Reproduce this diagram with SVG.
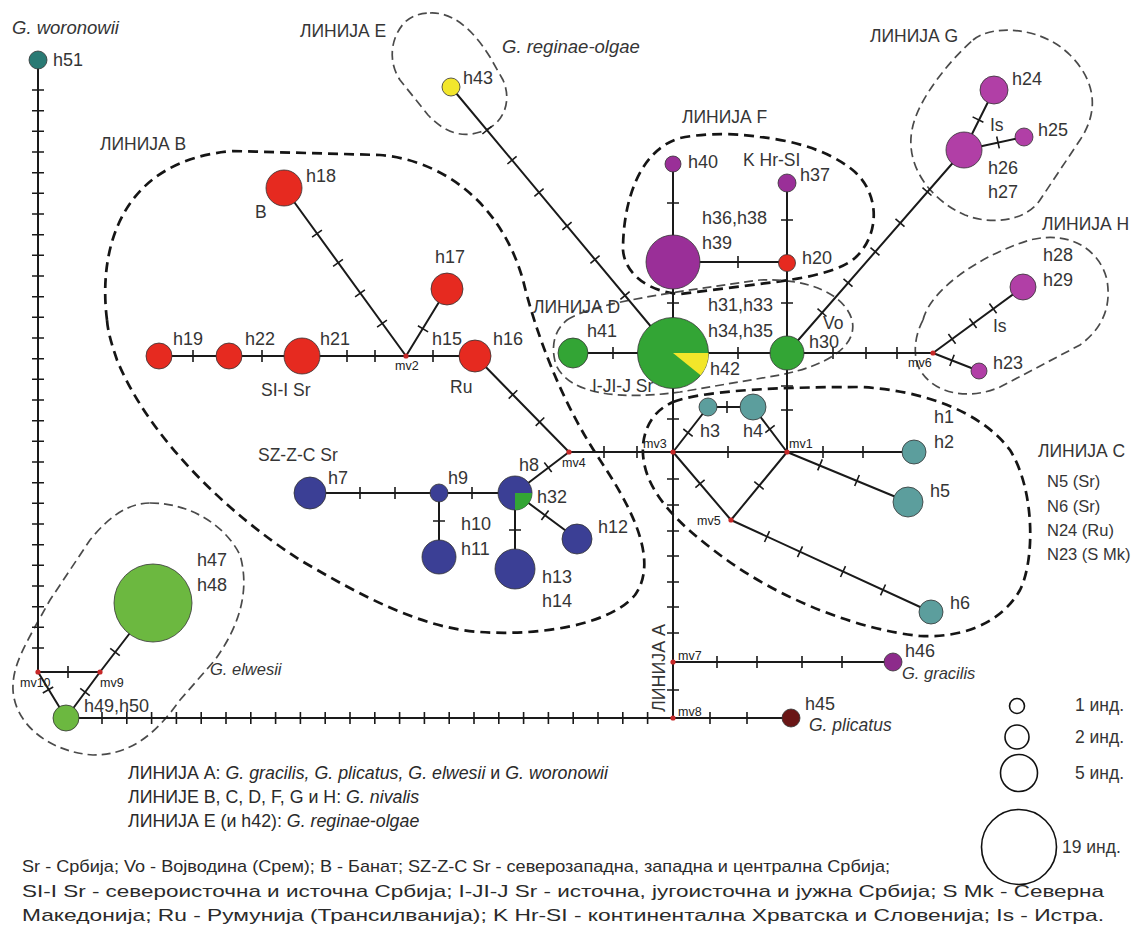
<svg xmlns="http://www.w3.org/2000/svg" width="1141" height="932" viewBox="0 0 1141 932">
<style>
text{font-family:"Liberation Sans",Arial,sans-serif;fill:#353535}
.l{font-size:18px}
.r{font-size:17.5px}
.q{font-size:16.5px}
.s{font-size:12.5px;fill:#222}
.it{font-style:italic}
.big{font-size:18.5px}
.lg{font-size:17.8px;fill:#2a2a2a}
.lb{font-size:17px;fill:#2a2a2a}
.e{stroke:#1a1a1a;stroke-width:2;fill:none}
.tk{stroke:#1a1a1a;stroke-width:1.6;fill:none}
.bt{stroke:#151515;stroke-width:2.7;fill:none;stroke-dasharray:10 6}
.bn{stroke:#4a4a4a;stroke-width:1.7;fill:none;stroke-dasharray:9 5}
.n{stroke:#333;stroke-width:0.8}
.red{fill:#e62a20}.blu{fill:#3b3f95}.tea{fill:#5c9e9d}.grn{fill:#33a535}.lgr{fill:#6cb840}
.pur{fill:#9a2f98}.mag{fill:#b13fa6}
.mv{fill:#c62828}
.leg{fill:#fff;stroke:#111;stroke-width:1.6}
</style>
<rect width="1141" height="932" fill="#fff"/>

<g id="boundaries">
<path class="bt" d="M107,320 C98,250 120,160 233,151 L380,155 C440,160 500,200 523,280 C535,330 560,400 600,460 C630,505 660,560 635,595 C610,625 540,636 480,632 C420,628 360,595 300,560 C230,515 150,440 117,360 C112,345 108,333 107,320 Z"/>
<path class="bn" d="M430,13 C450,12 470,25 490,57 L503,80 C512,100 505,125 480,132 C462,138 445,133 428,115 L400,80 C388,62 390,38 405,22 C413,15 422,13 430,13 Z"/>
<path class="bt" d="M760,137 C790,140 830,150 855,172 C880,195 880,235 855,258 C835,275 790,280 760,284 L680,294 C650,292 625,275 623,250 C623,200 640,150 680,138 C710,132 740,134 760,137 Z"/>
<path class="bn" d="M973,40 C990,25 1040,25 1070,55 C1095,80 1100,110 1080,140 L1040,200 C1025,222 990,225 965,215 C930,200 905,165 912,130 C917,100 950,60 973,40 Z"/>
<path class="bn" d="M923,320 C930,290 980,255 1030,240 C1070,230 1100,250 1107,280 C1112,310 1100,330 1080,345 L1000,387 C970,400 935,395 920,370 C912,355 915,335 923,320 Z"/>
<path class="bn" d="M567,320 C590,305 650,295 760,280 C810,278 845,295 852,320 C858,345 830,365 780,375 L680,392 C620,400 570,395 556,365 C550,345 555,330 567,320 Z"/>
<path class="bt" d="M673,402 C700,392 760,387 860,387 C920,390 980,410 1010,450 C1035,490 1035,560 1020,590 C1000,625 960,638 920,636 C860,630 780,600 720,555 C680,525 640,490 643,445 C645,425 655,410 673,402 Z"/>
<path class="bn" d="M150,503 C190,503 225,525 240,555 C250,590 240,625 215,660 L180,700 C155,735 130,755 93,755 C50,752 15,725 13,690 C12,665 25,645 50,600 L90,540 C110,515 130,503 150,503 Z"/>
</g>

<g id="connectors">
<path class="e" d="M38,60V672 M38,672H100 M38,672L66,718 M100,672L66,718 M100,672L153,603 M66,718H791 M673,164V718 M673,662H893 M673,262H787 M787,183V452 M573,353H933 M933,353L1023,287 M933,353L979,371 M787,353L964,150 M964,150L994,90 M964,150L1024,137 M451,87L673,353 M673,452L708,407 M708,407H753 M753,407L787,452 M569,452H914 M787,452L908,502 M673,452L731,520 M731,520L787,452 M731,520L931,612 M569,452L475,356 M569,452L515,493 M310,493H515 M439,493V557 M515,493V569 M515,493L577,539 M159,356H475 M406,356L284,188 M406,356L447,289"/>
<path class="tk" d="M32,90H44 M32,110.7H44 M32,131.3H44 M32,152H44 M32,172.7H44 M32,193.3H44 M32,214H44 M32,234.7H44 M32,255.3H44 M32,276H44 M32,296.7H44 M32,317.3H44 M32,338H44 M32,358.7H44 M32,379.3H44 M32,400H44 M32,420.7H44 M32,441.3H44 M32,462H44 M32,482.7H44 M32,503.3H44 M32,524H44 M32,544.7H44 M32,565.3H44 M32,586H44 M32,606.7H44 M32,627.3H44 M32,648H44
M68,666V678 M42.8,693L53.2,687 M80.2,688.4L89.8,695.6 M110.2,648.3L119.8,655.7
M102,712V724 M126.8,712V724 M151.6,712V724 M176.4,712V724 M201.2,712V724 M226,712V724 M250.8,712V724 M275.6,712V724 M300.4,712V724 M325.2,712V724 M350,712V724 M374.8,712V724 M399.6,712V724 M424.4,712V724 M449.2,712V724 M474,712V724 M498.8,712V724 M523.6,712V724 M548.4,712V724 M573.2,712V724 M598,712V724 M622.8,712V724 M647.6,712V724 M710,712V724 M747,712V724
M717,656V668 M757,656V668 M802,656V668 M842,656V668 M667,690H679
M667,203H679 M667,303H679 M667,419H679 M667,479H679 M667,505H679 M667,531H679 M667,556H679 M667,582H679 M667,607H679 M667,633H679
M738,256V268 M781,220H793 M781,303H793 M781,386H793 M781,410H793
M613,347V359 M738,347V359 M833,347V359 M866,347V359 M897,347V359
M948.4,334.1L955.6,343.7 M969.4,318.4L976.6,328 M989.4,303.6L996.6,313.2 M954.2,354.8L949.8,366
M817.5,308.7L826.5,316.5 M843.5,278.8L852.5,286.6 M870.5,247.6L879.5,255.4 M895.5,218.8L904.5,226.6 M922.5,187.7L931.5,195.5
M972.6,116.9L983.4,122.2 M996.7,136.5L999.3,148.3
M491.6,126.3L482.4,134 M516.6,156.3L507.4,164 M543.6,188.6L534.4,196.3 M571.6,222.2L562.4,229.9 M599.6,255.7L590.4,263.4 M629.6,291.7L620.4,299.4
M683.3,429L692.7,436.4 M727,401V413 M774.7,425.3L765.3,432.7
M604,446V458 M637,446V458 M728,446V458 M823,446V458 M863,446V458
M822.3,459.4L817.7,470.4 M859.3,475L854.7,486 M704.6,479.8L695.4,487.6 M754.3,481.7L763.7,489.3
M769.5,531.2L764.5,542 M802.5,546.3L797.5,557.2 M845.5,566.1L840.5,577 M885.5,584.5L880.5,595.4
M508.7,398.6L517.3,390.2 M535.7,425.9L544.3,417.5 M551.7,472L544.3,462.6
M472,487V499 M360,487V499 M395,487V499 M433,521H445 M509,530H521 M548.6,510.5L541.4,520.1
M193,350V362 M262,350V362 M347,350V362 M375,350V362 M433,350V362
M312.1,237.2L321.9,230.2 M333.1,266.3L342.9,259.3 M355.1,296.8L364.9,289.8 M377.1,327.2L386.9,320.2 M417.9,325.7L428.1,331.9"/>
</g>

<g id="median-vectors">
<circle class="mv" cx="787" cy="452" r="2.6"/><text class="s" x="789" y="448">mv1</text>
<circle class="mv" cx="406" cy="356" r="2.6"/><text class="s" x="395" y="370">mv2</text>
<circle class="mv" cx="673" cy="452" r="2.6"/><text class="s" x="643" y="448">mv3</text>
<circle class="mv" cx="569" cy="452" r="2.6"/><text class="s" x="562" y="467">mv4</text>
<circle class="mv" cx="731" cy="520" r="2.6"/><text class="s" x="697" y="525">mv5</text>
<circle class="mv" cx="933" cy="353" r="2.6"/><text class="s" x="908" y="367">mv6</text>
<circle class="mv" cx="673" cy="662" r="2.6"/><text class="s" x="678" y="660">mv7</text>
<circle class="mv" cx="673" cy="718" r="2.6"/><text class="s" x="678" y="716">mv8</text>
<circle class="mv" cx="100" cy="672" r="2.6"/><text class="s" x="100" y="687">mv9</text>
<circle class="mv" cx="38" cy="672" r="2.6"/><text class="s" x="20" y="687">mv10</text>
</g>

<g id="h51"><circle class="n" cx="38" cy="60" r="9" fill="#2a7a74"/><text class="l" x="53" y="66">h51</text><text class="big it" x="12" y="34">G. woronowii</text></g>
<g id="h43"><circle class="n" cx="451" cy="87" r="9" fill="#f2e62c"/><text class="l" x="463" y="84">h43</text></g>
<g id="h18"><circle class="n red" cx="284" cy="188" r="18"/><text class="l" x="306" y="182">h18</text><text class="r" x="255" y="218">B</text></g>
<g id="h17"><circle class="n red" cx="447" cy="289" r="16"/><text class="l" x="435" y="263">h17</text></g>
<g id="h19"><circle class="n red" cx="159" cy="356" r="13"/><text class="l" x="173" y="345">h19</text></g>
<g id="h22"><circle class="n red" cx="229" cy="356" r="13"/><text class="l" x="245" y="345">h22</text></g>
<g id="h21"><circle class="n red" cx="302" cy="356" r="18"/><text class="l" x="320" y="345">h21</text><text class="r" x="261" y="396">SI-I Sr</text></g>
<g id="h15"><text class="l" x="432" y="345">h15</text></g>
<g id="h16"><circle class="n red" cx="475" cy="356" r="16"/><text class="l" x="493" y="345">h16</text><text class="r" x="450" y="393">Ru</text></g>
<g id="h40"><circle class="n pur" cx="673" cy="164" r="8"/><text class="l" x="688" y="168">h40</text></g>
<g id="h37"><circle class="n pur" cx="787" cy="183" r="9"/><text class="l" x="800" y="181">h37</text><text class="r" x="743" y="166">K Hr-SI</text></g>
<g id="h39"><circle class="n pur" cx="673" cy="262" r="27"/><text class="l" x="702" y="224">h36,h38</text><text class="l" x="702" y="249">h39</text></g>
<g id="h20"><circle class="n red" cx="787" cy="263" r="8.5"/><text class="l" x="802" y="264">h20</text></g>
<g id="h24"><circle class="n mag" cx="994" cy="90" r="14"/><text class="l" x="1012" y="85">h24</text></g>
<g id="h26"><circle class="n mag" cx="964" cy="150" r="18"/><text class="l" x="988" y="174">h26</text><text class="l" x="988" y="198">h27</text><text class="r" x="990" y="131">Is</text></g>
<g id="h25"><circle class="n mag" cx="1024" cy="137" r="9"/><text class="l" x="1038" y="136">h25</text></g>
<g id="h29"><circle class="n mag" cx="1023" cy="287" r="13"/><text class="l" x="1043" y="261">h28</text><text class="l" x="1043" y="286">h29</text><text class="r" x="993" y="332">Is</text></g>
<g id="h23"><circle class="n mag" cx="979" cy="371" r="8"/><text class="l" x="993" y="369">h23</text></g>
<g id="h41"><circle class="n grn" cx="573" cy="353" r="15"/><text class="l" x="587" y="337">h41</text></g>
<g id="h34"><circle class="n grn" cx="673" cy="353" r="35.5"/><path d="M673,353 L708.5,353 A35.5,35.5 0 0 1 700.6,375.3 Z" fill="#f3e62a"/><text class="l" x="708" y="311">h31,h33</text><text class="l" x="708" y="337">h34,h35</text><text class="l" x="710" y="375">h42</text><text class="r" x="592" y="392">I-JI-J Sr</text></g>
<g id="h30"><circle class="n grn" cx="787" cy="353" r="17"/><text class="l" x="809" y="348">h30</text><text class="r" x="823" y="329">Vo</text></g>
<g id="h3"><circle class="n tea" cx="708" cy="407" r="9"/><text class="l" x="700" y="437">h3</text></g>
<g id="h4"><circle class="n tea" cx="753" cy="407" r="13"/><text class="l" x="743" y="437">h4</text></g>
<g id="h2"><circle class="n tea" cx="914" cy="452" r="12"/><text class="l" x="934" y="423">h1</text><text class="l" x="934" y="448">h2</text></g>
<g id="h5"><circle class="n tea" cx="908" cy="502" r="15"/><text class="l" x="930" y="497">h5</text></g>
<g id="h6"><circle class="n tea" cx="931" cy="612" r="12"/><text class="l" x="950" y="609">h6</text></g>
<g id="h7"><circle class="n blu" cx="310" cy="493" r="16"/><text class="l" x="328" y="484">h7</text><text class="r" x="258" y="461">SZ-Z-C Sr</text></g>
<g id="h9"><circle class="n blu" cx="439" cy="493" r="9"/><text class="l" x="448" y="484">h9</text></g>
<g id="h8"><circle class="n blu" cx="515" cy="493" r="17"/><path d="M515,493 L532,493 A17,17 0 0 1 515,510 Z" fill="#33a535"/><text class="l" x="519" y="471">h8</text><text class="l" x="537" y="503">h32</text></g>
<g id="h11"><circle class="n blu" cx="439" cy="557" r="17"/><text class="l" x="461" y="530">h10</text><text class="l" x="461" y="555">h11</text></g>
<g id="h13"><circle class="n blu" cx="515" cy="569" r="20"/><text class="l" x="542" y="583">h13</text><text class="l" x="542" y="607">h14</text></g>
<g id="h12"><circle class="n blu" cx="577" cy="539" r="15"/><text class="l" x="598" y="533">h12</text></g>
<g id="h47"><circle class="n lgr" cx="153" cy="603" r="39"/><text class="l" x="197" y="566">h47</text><text class="l" x="197" y="591">h48</text></g>
<g id="h49"><circle class="n lgr" cx="66" cy="718" r="13"/><text class="l" x="84" y="712">h49,h50</text></g>
<g id="h46"><circle class="n" cx="893" cy="662" r="9" fill="#8d2b8b"/><text class="l" x="905" y="657">h46</text><text class="q it" x="902" y="679">G. gracilis</text></g>
<g id="h45"><circle class="n" cx="791" cy="718" r="9" fill="#6a1616"/><text class="l" x="805" y="710">h45</text><text class="r it" x="809" y="731">G. plicatus</text></g>

<g id="region-labels">
<text class="r" x="100" y="150">ЛИНИЈА B</text>
<text class="r" x="300" y="37">ЛИНИЈА E</text>
<text class="big it" x="502" y="53">G. reginae-olgae</text>
<text class="r" x="682" y="123">ЛИНИЈА F</text>
<text class="r" x="870" y="42">ЛИНИЈА G</text>
<text class="r" x="1042" y="230">ЛИНИЈА H</text>
<text class="r" x="533" y="313">ЛИНИЈА D</text>
<text class="r" x="1038" y="457">ЛИНИЈА C</text>
<text class="q" x="1047" y="487">N5 (Sr)</text>
<text class="q" x="1047" y="512">N6 (Sr)</text>
<text class="q" x="1047" y="536">N24 (Ru)</text>
<text class="q" x="1047" y="560">N23 (S Mk)</text>
<text class="r" transform="translate(665,712) rotate(-90)" textLength="88" lengthAdjust="spacingAndGlyphs">ЛИНИЈА A</text>
<text class="q it" x="210" y="675">G. elwesii</text>
</g>

<g id="legend">
<circle class="leg" cx="1017" cy="706" r="7.5"/><text class="r" x="1075" y="711">1 инд.</text>
<circle class="leg" cx="1017" cy="737" r="12"/><text class="r" x="1075" y="743">2 инд.</text>
<circle class="leg" cx="1019" cy="773" r="18.5"/><text class="r" x="1075" y="779">5 инд.</text>
<circle class="leg" cx="1019" cy="847" r="37.5"/><text class="r" x="1062" y="853">19 инд.</text>
<text class="lg" x="128" y="779">ЛИНИЈА A: <tspan class="it">G. gracilis, G. plicatus, G. elwesii</tspan> и <tspan class="it">G. woronowii</tspan></text>
<text class="lg" x="128" y="803">ЛИНИЈЕ B, C, D, F, G и H: <tspan class="it">G. nivalis</tspan></text>
<text class="lg" x="128" y="827">ЛИНИЈА E (и h42): <tspan class="it">G. reginae-olgae</tspan></text>
<text class="lb" x="22" y="872" textLength="868" lengthAdjust="spacingAndGlyphs">Sr - Србија; Vo - Војводина (Срем); B - Банат; SZ-Z-C Sr - северозападна, западна и централна Србија;</text>
<text class="lb" x="22" y="897" textLength="1082" lengthAdjust="spacingAndGlyphs">SI-I Sr - североисточна и источна Србија; I-JI-J Sr - источна, југоисточна и јужна Србија; S Mk - Северна</text>
<text class="lb" x="22" y="921" textLength="1082" lengthAdjust="spacingAndGlyphs">Македонија; Ru - Румунија (Трансилванија); K Hr-SI - континентална Хрватска и Словенија; Is - Истра.</text>
</g>
</svg>
